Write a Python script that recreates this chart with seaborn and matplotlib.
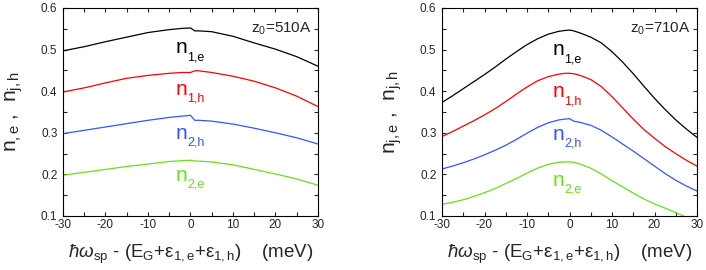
import matplotlib
matplotlib.use("Agg")
import matplotlib.pyplot as plt
import pandas as pd
import seaborn as sns
from matplotlib.ticker import MultipleLocator

sns.set_style("ticks")
plt.rcParams['font.family'] = ['Liberation Sans', 'DejaVu Sans']
plt.rcParams['mathtext.fontset'] = 'custom'
plt.rcParams['mathtext.rm'] = 'Liberation Sans'
plt.rcParams['mathtext.it'] = 'Liberation Sans:italic'
plt.rcParams['mathtext.bf'] = 'Liberation Sans:bold'
plt.rcParams['mathtext.fallback'] = 'stixsans'
plt.rcParams['axes.unicode_minus'] = False

# detuning (meV)
x_510 = [-30, -25, -20, -15, -10, -5, -2, 0, 1, 2, 5, 10, 15, 20, 25, 30]
x_710 = [-30, -27.5, -25, -22.5, -20, -17.5, -15, -12.5, -10, -7.5, -5, -2.5,
         -1, 0, 1, 2.5, 5, 7.5, 10, 12.5, 15, 17.5, 20, 22.5, 25, 27.5, 30]

# z0 = 510 A
n1e_510 = [0.497, 0.507, 0.519, 0.530, 0.541, 0.548, 0.551, 0.552, 0.545, 0.545,
           0.543, 0.532, 0.516, 0.501, 0.483, 0.460]
n1h_510 = [0.398, 0.408, 0.420, 0.431, 0.438, 0.443, 0.445, 0.445, 0.449, 0.449,
           0.445, 0.436, 0.424, 0.408, 0.388, 0.363]
n2h_510 = [0.298, 0.306, 0.314, 0.322, 0.330, 0.337, 0.340, 0.342, 0.330, 0.330,
           0.328, 0.321, 0.311, 0.300, 0.288, 0.273]
n2e_510 = [0.198, 0.205, 0.212, 0.219, 0.225, 0.231, 0.233, 0.234, 0.232, 0.232,
           0.230, 0.223, 0.212, 0.201, 0.189, 0.174]

# z0 = 710 A
n1e_710 = [0.373, 0.389, 0.406, 0.423, 0.440, 0.458, 0.477, 0.495, 0.512, 0.526,
           0.537, 0.544, 0.546, 0.547, 0.545, 0.540, 0.530, 0.516, 0.495, 0.470,
           0.442, 0.412, 0.383, 0.356, 0.331, 0.309, 0.289]
n1h_710 = [0.291, 0.303, 0.316, 0.329, 0.343, 0.358, 0.375, 0.393, 0.410, 0.425,
           0.435, 0.441, 0.443, 0.443, 0.442, 0.438, 0.428, 0.411, 0.387, 0.360,
           0.333, 0.308, 0.287, 0.267, 0.250, 0.234, 0.220]
n2h_710 = [0.213, 0.220, 0.228, 0.237, 0.247, 0.258, 0.270, 0.284, 0.299, 0.313,
           0.324, 0.331, 0.333, 0.334, 0.328, 0.325, 0.318, 0.306, 0.290, 0.273,
           0.256, 0.238, 0.220, 0.202, 0.186, 0.172, 0.160]
n2e_710 = [0.128, 0.133, 0.139, 0.147, 0.156, 0.166, 0.178, 0.190, 0.203, 0.215,
           0.224, 0.229, 0.230, 0.230, 0.229, 0.225, 0.215, 0.201, 0.185, 0.170,
           0.155, 0.141, 0.129, 0.119, 0.108, 0.097, 0.088]

series = ['1,e', '1,h', '2,h', '2,e']
colors = ['black', '#ff0000', '#3355ff', '#66e01a']
label_y_510 = [0.491, 0.392, 0.286, 0.184]
label_y_710 = [0.486, 0.385, 0.283, 0.173]


def make_df(x, ys):
    frames = []
    for name, y in zip(series, ys):
        frames.append(pd.DataFrame({'x': x, 'n': y, 'series': name}))
    return pd.concat(frames, ignore_index=True)


panels = [
    (make_df(x_510, [n1e_510, n1h_510, n2h_510, n2e_510]), r'z$_0$=510A',
     r'n$_{\rm ,e}$ ,  n$_{\rm j,h}$', label_y_510, -3.4),
    (make_df(x_710, [n1e_710, n1h_710, n2h_710, n2e_710]), r'z$_0$=710A',
     r'n$_{\rm j,e}$ ,  n$_{\rm j,h}$', label_y_710, -3.9),
]

fig = plt.figure(figsize=(7.06, 2.70), dpi=100)
lefts = [63 / 706, 442 / 706]

for left, (df, ztext, ylab, lab_y, lab_x) in zip(lefts, panels):
    ax = fig.add_axes([left, 0.2, 255 / 706, 208 / 270])
    sns.lineplot(data=df, x='x', y='n', hue='series', palette=colors,
                 hue_order=series, legend=False, sort=False, estimator=None,
                 lw=0.9, ax=ax)
    ax.set_xlim(-30, 30)
    ax.set_ylim(0.1, 0.6)
    ax.xaxis.set_major_locator(MultipleLocator(10))
    ax.xaxis.set_minor_locator(MultipleLocator(5))
    ax.yaxis.set_major_locator(MultipleLocator(0.1))
    ax.yaxis.set_minor_locator(MultipleLocator(0.05))
    ax.tick_params(which='both', direction='in', top=True, right=True,
                   length=3, width=0.8, labelsize=8.5, pad=2)
    ax.tick_params(axis='y', pad=4)
    for sp in ax.spines.values():
        sp.set_linewidth(0.8)
        sp.set_color('black')

    # curve labels: big "n" with a small, low subscript
    for name, c, ly in zip(series, colors, lab_y):
        ax.text(lab_x, ly, 'n', color=c, fontsize=15, ha='left', va='baseline')
        ax.annotate(name, xy=(lab_x, ly), xytext=(7.9, -4.8),
                    textcoords='offset points', color=c, fontsize=9,
                    ha='left', va='baseline')
    ax.text(28.6, 0.541, ztext, fontsize=11, ha='right', va='baseline')

    ax.set_xlabel(r'$\hbar\omega_{\rm sp}$ - (E$_{\rm G}$+ε$_{\rm 1,e}$+ε$_{\rm 1,h}$)    (meV)',
                  fontsize=13.5, labelpad=9)
    ax.set_ylabel(ylab, fontsize=15)
    ax.yaxis.set_label_coords(-0.15, 0.5)

plt.savefig('out.png', dpi=100)
